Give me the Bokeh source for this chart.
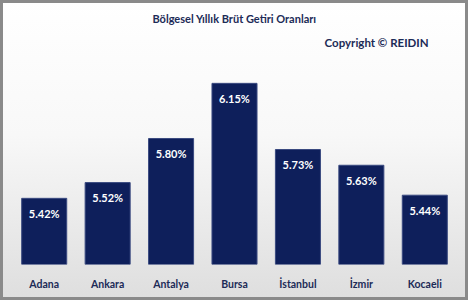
from bokeh.plotting import figure
from bokeh.models import ColumnDataSource, Range1d, Label
from bokeh.core.properties import value
from bokeh.embed import file_html
from bokeh.resources import INLINE

cities = ["Adana", "Ankara", "Antalya", "Bursa", "İstanbul", "İzmir", "Kocaeli"]
rates = [5.42, 5.52, 5.80, 6.15, 5.73, 5.63, 5.44]
rate_labels = ["5.42%", "5.52%", "5.80%", "6.15%", "5.73%", "5.63%", "5.44%"]
title_text = "Bölgesel Yıllık Brüt Getiri Oranları"
copyright_text = "Copyright © REIDIN"

NAVY = "#0e1f5b"
TEXT = "#1c2b57"

src = ColumnDataSource(dict(city=cities, rate=rates, lab=rate_labels))

p = figure(width=468, height=300, x_range=cities, y_range=Range1d(5.0, 6.676),
           output_backend="svg", toolbar_location=None, y_axis_location=None,
           min_border_left=12, min_border_right=12, min_border_top=0, min_border_bottom=36)
p.background_fill_color = None
p.border_fill_color = None
p.outline_line_color = None
p.styles = {
    "background": "linear-gradient(to bottom, #ffffff 0%, #f8f8f8 45%, #dedede 100%)",
    "box-shadow": "inset 0 0 0 3px #8a8a8a",
}
p.xgrid.visible = False
p.ygrid.visible = False
p.x_range.range_padding = 0

p.vbar(x="city", top="rate", bottom=5.0, width=0.71, source=src,
       fill_color=NAVY, line_color="#3a4a80", line_width=1)
p.text(x="city", y="rate", text="lab", source=src, text_align="center",
       text_baseline="middle", y_offset=15, text_color="white",
       text_font=value("Lato"), text_font_style="bold", text_font_size="11px")

ax = p.xaxis[0]
ax.axis_line_color = None
ax.major_tick_line_color = None
ax.minor_tick_line_color = None
ax.major_tick_out = 0
ax.major_tick_in = 0
ax.major_label_standoff = 13
ax.major_label_text_font = "Lato"
ax.major_label_text_font_size = "10.5px"
ax.major_label_text_font_style = "bold"
ax.major_label_text_color = TEXT

p.add_layout(Label(x=3.5, y=5.0 + (264 - 18) / 157.5, text=title_text,
                   text_align="center", text_baseline="middle", text_font="Lato",
                   text_font_style="bold", text_font_size="11px", text_color=TEXT))
p.add_layout(Label(x=5.74, y=5.0 + (264 - 42) / 157.5, text=copyright_text,
                   text_align="center", text_baseline="middle", text_font="Lato",
                   text_font_style="bold", text_font_size="11.5px", text_color=TEXT))

open("out.html", "w").write(file_html(p, INLINE))
